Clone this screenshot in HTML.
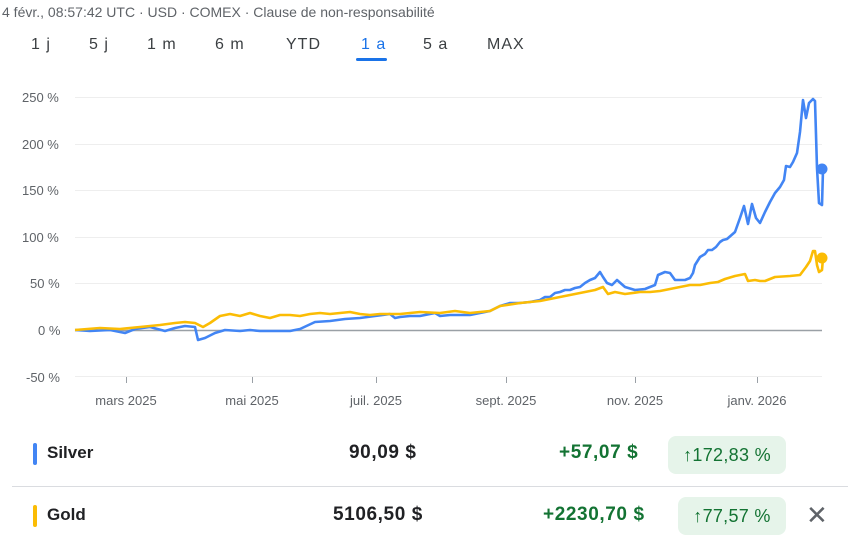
<!DOCTYPE html><html><head><style>
body{margin:0;width:861px;height:542px;background:#fff;font-family:"Liberation Sans",Arial,sans-serif;position:relative;overflow:hidden;color:#202124}
.a{position:absolute;white-space:nowrap}
.tab{position:absolute;top:36px;font-size:16px;color:#3c4043;letter-spacing:1px}
.yl{position:absolute;left:22px;font-size:13px;color:#5f6368}
.xl{position:absolute;top:393px;font-size:13px;color:#5f6368;transform:translateX(-50%)}
.pill{position:absolute;background:#e6f4ea;color:#137333;border-radius:8px;font-size:18px;height:38px;line-height:38px;text-align:center;letter-spacing:0.3px}
.v{font-size:19px;font-weight:bold;letter-spacing:0.6px}
</style></head><body>
<div class="a" style="left:2px;top:4px;font-size:14px;color:#5f6368">4 févr., 08:57:42 UTC · USD · COMEX · Clause de non-responsabilité</div>
<div class="tab" style="left:31px">1 j</div>
<div class="tab" style="left:89px">5 j</div>
<div class="tab" style="left:147px">1 m</div>
<div class="tab" style="left:215px">6 m</div>
<div class="tab" style="left:286px">YTD</div>
<div class="tab" style="left:361px;color:#1a73e8">1 a</div>
<div class="tab" style="left:423px">5 a</div>
<div class="tab" style="left:487px">MAX</div>
<div class="a" style="left:356px;top:58px;width:31px;height:3px;background:#1a73e8;border-radius:2px"></div>
<div class="yl" style="top:90px">250 %</div>
<div class="yl" style="top:137px">200 %</div>
<div class="yl" style="top:183px">150 %</div>
<div class="yl" style="top:230px">100 %</div>
<div class="yl" style="top:276px;left:30px">50 %</div>
<div class="yl" style="top:323px;left:38px">0 %</div>
<div class="yl" style="top:370px;left:26px">-50 %</div>
<svg class="a" style="left:0;top:0" width="861" height="420">
<g stroke="#eeeeee" stroke-width="1">
<line x1="75" y1="97.5" x2="822" y2="97.5"/><line x1="75" y1="144.5" x2="822" y2="144.5"/><line x1="75" y1="190.5" x2="822" y2="190.5"/><line x1="75" y1="237.5" x2="822" y2="237.5"/><line x1="75" y1="283.5" x2="822" y2="283.5"/><line x1="75" y1="376.5" x2="822" y2="376.5"/></g>
<line x1="75" y1="330.5" x2="822" y2="330.5" stroke="#9aa0a6" stroke-width="1.5"/>
<g stroke="#9aa0a6"><line x1="126.5" y1="377" x2="126.5" y2="383"/><line x1="252.5" y1="377" x2="252.5" y2="383"/><line x1="376.5" y1="377" x2="376.5" y2="383"/><line x1="506.5" y1="377" x2="506.5" y2="383"/><line x1="635.5" y1="377" x2="635.5" y2="383"/><line x1="757.5" y1="377" x2="757.5" y2="383"/></g>
<polyline fill="none" stroke="#4285f4" stroke-width="2.6" stroke-linejoin="round" points="75,330 90,331 110,330 125,333 135,329 150,327 165,331 175,328 185,326 195,327 198,340 205,338 215,333 225,330 240,331 250,330 260,331 275,331 290,331 300,329 315,322 330,321 345,319 360,318 375,316 390,314 395,318 400,317 410,316 420,316 430,314 435,313 440,316 450,315 460,315 470,315 480,313 490,311 500,306 510,303 520,303 530,302 540,300 545,297 550,297 555,293 560,292 565,290 570,290 575,288 580,287 585,283 590,280 595,278 600,272 603,277 607,283 612,285 617,280 625,287 635,290 645,289 655,285 658,275 665,272 670,273 675,280 680,280 685,280 690,278 693,273 695,265 700,257 705,254 708,250 712,250 716,247 720,242 723,240 727,239 735,232 740,218 744,206 748,224 752,204 756,218 760,223 765,212 770,202 775,193 780,187 784,180 786,166 790,167 793,162 797,153 800,132 803,100 806,118 809,103 813,99 815,101 817,168 819,203 822,205 823,170"/>
<polyline fill="none" stroke="#fbbc04" stroke-width="2.6" stroke-linejoin="round" points="75,330 100,328 120,329 140,327 160,325 175,323 185,322 195,323 203,327 210,323 220,316 230,314 240,316 250,313 260,316 270,318 280,315 290,315 300,316 310,314 320,313 330,314 340,313 350,312 360,314 370,315 380,314 390,314 400,314 420,312 440,313 455,311 470,313 480,312 490,311 500,306 520,303 540,301 555,298 570,295 580,293 595,290 603,287 608,294 615,292 625,294 640,292 650,292 660,291 670,289 680,287 690,285 700,285 710,283 718,282 725,279 735,276 745,274 748,281 755,280 760,281 765,281 775,277 790,276 800,275 806,267 810,261 813,251 815,251 817,265 819,272 822,270 823,258"/>
<circle cx="822" cy="169" r="5.5" fill="#4285f4"/><circle cx="822" cy="258" r="5.5" fill="#fbbc04"/>
</svg>
<div class="xl" style="left:126px">mars 2025</div>
<div class="xl" style="left:252px">mai 2025</div>
<div class="xl" style="left:376px">juil. 2025</div>
<div class="xl" style="left:506px">sept. 2025</div>
<div class="xl" style="left:635px">nov. 2025</div>
<div class="xl" style="left:757px">janv. 2026</div>
<div class="a" style="left:33px;top:443px;width:4px;height:22px;background:#4285f4;border-radius:2px"></div>
<div class="a" style="left:47px;top:443px;font-size:17px;font-weight:bold">Silver</div>
<div class="a v" style="left:349px;top:442px">90,09 $</div>
<div class="a v" style="left:559px;top:442px;color:#137333">+57,07 $</div>
<div class="pill" style="left:668px;top:436px;width:118px">↑172,83 %</div>
<div class="a" style="left:12px;top:486px;width:836px;height:1px;background:#dadce0"></div>
<div class="a" style="left:33px;top:505px;width:4px;height:22px;background:#fbbc04;border-radius:2px"></div>
<div class="a" style="left:47px;top:505px;font-size:17px;font-weight:bold">Gold</div>
<div class="a v" style="left:333px;top:504px">5106,50 $</div>
<div class="a v" style="left:543px;top:504px;color:#137333">+2230,70 $</div>
<div class="pill" style="left:678px;top:497px;width:108px">↑77,57 %</div>
<div class="a" style="left:806px;top:500px;font-size:26px;color:#5f6368">✕</div>
</body></html>
